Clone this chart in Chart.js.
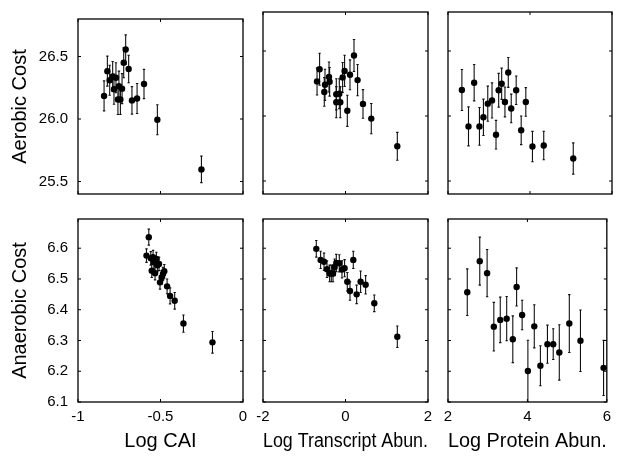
<!DOCTYPE html>
<html>
<head>
<meta charset="utf-8">
<script src="https://cdn.jsdelivr.net/npm/chart.js@4.4.1/dist/chart.umd.min.js"></script>
<style>
  body { margin: 0; background: #fff; }
  #wrap { position: relative; width: 617px; height: 456px; background: #fff; }
  #wrap canvas { position: absolute; left: 0; top: 0; }
</style>
</head>
<body>
<div id="wrap">
  <canvas id="p0" width="617" height="456"></canvas>
  <canvas id="p1" width="617" height="456"></canvas>
  <canvas id="p2" width="617" height="456"></canvas>
  <canvas id="p3" width="617" height="456"></canvas>
  <canvas id="p4" width="617" height="456"></canvas>
  <canvas id="p5" width="617" height="456"></canvas>
</div>
<script>
// Values (approximate)

// Log CAI vs aerobic cost
const caiAerX = [-0.842, -0.822, -0.808, -0.79, -0.782, -0.77, -0.758, -0.752, -0.743, -0.733, -0.723, -0.711, -0.693, -0.673, -0.642, -0.60, -0.519, -0.252];
const caiAerY = [26.185, 26.383, 26.31, 26.34, 26.238, 26.33, 26.156, 26.263, 26.156, 26.243, 26.45, 26.556, 26.40, 26.149, 26.164, 26.28, 25.994, 25.597];
const caiAerErr = [0.12, 0.12, 0.12, 0.12, 0.12, 0.12, 0.12, 0.12, 0.12, 0.12, 0.12, 0.117, 0.11, 0.11, 0.12, 0.117, 0.12, 0.106];

// Log transcript abundance vs aerobic cost
const trAerX = [-0.69, -0.628, -0.514, -0.497, -0.40, -0.385, -0.223, -0.223, -0.15, -0.126, -0.07, -0.022, 0.044, 0.109, 0.206, 0.293, 0.424, 0.625, 1.256];
const trAerY = [26.266, 26.36, 26.185, 26.24, 26.30, 26.263, 26.167, 26.106, 26.172, 26.106, 26.297, 26.347, 26.04, 26.317, 26.465, 26.276, 26.093, 25.98, 25.767];
const trAerErr = [0.104, 0.123, 0.11, 0.12, 0.115, 0.11, 0.12, 0.12, 0.115, 0.12, 0.115, 0.12, 0.12, 0.115, 0.123, 0.12, 0.11, 0.116, 0.107];

// Log protein abundance vs aerobic cost
const prAerX = [2.339, 2.50, 2.638, 2.767, 2.864, 2.97, 3.074, 3.171, 3.236, 3.309, 3.389, 3.47, 3.542, 3.663, 3.785, 3.898, 4.06, 4.335, 5.055];
const prAerY = [26.20, 25.92, 26.256, 25.92, 25.99, 26.095, 26.12, 25.856, 26.198, 26.248, 26.108, 26.335, 26.058, 26.198, 25.89, 26.108, 25.765, 25.773, 25.673];
const prAerErr = [0.158, 0.15, 0.14, 0.145, 0.14, 0.135, 0.135, 0.11, 0.13, 0.12, 0.115, 0.115, 0.11, 0.11, 0.11, 0.11, 0.117, 0.11, 0.12];

// Log CAI vs anaerobic cost
const caiAnaX = [-0.585, -0.571, -0.559, -0.553, -0.545, -0.540, -0.533, -0.525, -0.519, -0.509, -0.503, -0.493, -0.485, -0.477, -0.46, -0.442, -0.414, -0.361, -0.185];
const caiAnaY = [6.576, 6.636, 6.567, 6.527, 6.571, 6.554, 6.519, 6.565, 6.545, 6.549, 6.489, 6.505, 6.516, 6.525, 6.476, 6.445, 6.429, 6.355, 6.294];
const caiAnaErr = [0.022, 0.026, 0.022, 0.022, 0.022, 0.022, 0.022, 0.022, 0.022, 0.022, 0.022, 0.022, 0.022, 0.022, 0.024, 0.026, 0.027, 0.028, 0.035];

// Log transcript abundance vs anaerobic cost
const trAnaX = [-0.708, -0.603, -0.521, -0.449, -0.385, -0.344, -0.303, -0.264, -0.223, -0.15, -0.085, -0.022, 0.044, 0.109, 0.189, 0.27, 0.366, 0.488, 0.698, 1.256];
const trAnaY = [6.598, 6.562, 6.556, 6.532, 6.518, 6.518, 6.518, 6.538, 6.552, 6.551, 6.531, 6.535, 6.491, 6.461, 6.562, 6.45, 6.491, 6.481, 6.421, 6.312];
const trAnaErr = [0.027, 0.028, 0.028, 0.027, 0.027, 0.027, 0.027, 0.027, 0.028, 0.028, 0.028, 0.028, 0.03, 0.03, 0.028, 0.03, 0.035, 0.03, 0.027, 0.035];

// Log protein abundance vs anaerobic cost
const prAnaX = [2.485, 2.80, 2.985, 3.154, 3.316, 3.478, 3.632, 3.728, 3.867, 4.012, 4.173, 4.327, 4.504, 4.65, 4.803, 5.055, 5.336, 5.918];
const prAnaY = [6.457, 6.558, 6.519, 6.345, 6.367, 6.371, 6.304, 6.474, 6.383, 6.201, 6.346, 6.218, 6.288, 6.288, 6.261, 6.355, 6.299, 6.211];
const prAnaErr = [0.076, 0.078, 0.077, 0.079, 0.074, 0.072, 0.076, 0.062, 0.048, 0.10, 0.07, 0.065, 0.062, 0.05, 0.09, 0.094, 0.10, 0.09];

// Axis ranges and ticks
const caiRange = [-1, 0];
const trRange = [-2, 2];
const prRange = [2, 6];
const aerRange = [25.4, 26.8];
const anaRange = [6.1, 6.695];
const caiTicks = [-1, -0.5, 0];
const trTicks = [-2, 0, 2];
const prTicks = [2, 4, 6];
const aerTicks = [25.5, 26.0, 26.5];
const anaTicks = [6.1, 6.2, 6.3, 6.4, 6.5, 6.6];

const xTitles = ['Log CAI', 'Log Transcript Abun.', 'Log Protein Abun.'];
const yTitles = ['Aerobic Cost', 'Anaerobic Cost'];

// panel frame edges in page pixels
const colLeft = [78, 263, 448];
const colRight = [243, 428, 612];
const rowTop = [12, 219];
const rowBottom = [194, 402];
const W = 617, H = 456;

Chart.defaults.font.family = "'Liberation Sans', Arial, Helvetica, sans-serif";
Chart.defaults.color = '#000';

// vertical error bars with small caps, drawn under the markers
const errorBars = {
  id: 'errorBars',
  beforeDatasetsDraw(chart, args, opts) {
    const {ctx, chartArea, scales: {x, y}} = chart;
    const pts = chart.data.datasets[0].data;
    ctx.save();
    ctx.beginPath();
    ctx.rect(chartArea.left, chartArea.top, chartArea.width, chartArea.height);
    ctx.clip();
    ctx.strokeStyle = '#111';
    ctx.lineWidth = 1.1;
    pts.forEach((p, i) => {
      const px = x.getPixelForValue(p.x);
      const top = y.getPixelForValue(p.y + opts.errs[i]);
      const bot = y.getPixelForValue(p.y - opts.errs[i]);
      ctx.beginPath();
      ctx.moveTo(px, top); ctx.lineTo(px, bot);
      ctx.moveTo(px - 1.2, top); ctx.lineTo(px + 1.2, top);
      ctx.moveTo(px - 1.2, bot); ctx.lineTo(px + 1.2, bot);
      ctx.stroke();
    });
    ctx.restore();
  }
};

// box around the axes with inward ticks on all four sides
const axesBox = {
  id: 'axesBox',
  afterDraw(chart) {
    const {ctx, chartArea: a, scales: {x, y}} = chart;
    const len = 3;
    ctx.save();
    ctx.strokeStyle = '#000';
    ctx.lineWidth = 1.3;
    ctx.strokeRect(a.left, a.top, a.width, a.height);
    ctx.lineWidth = 1;
    ctx.beginPath();
    x.ticks.forEach(t => {
      const px = x.getPixelForValue(t.value);
      ctx.moveTo(px, a.bottom); ctx.lineTo(px, a.bottom - len);
      ctx.moveTo(px, a.top); ctx.lineTo(px, a.top + len);
    });
    y.ticks.forEach(t => {
      const py = y.getPixelForValue(t.value);
      ctx.moveTo(a.left, py); ctx.lineTo(a.left + len, py);
      ctx.moveTo(a.right, py); ctx.lineTo(a.right - len, py);
    });
    ctx.stroke();
    ctx.restore();
  }
};

const makePanel = (id, row, col, xs, ys, errs, xRange, yRange, xTicks, yTicks) => {
  const ctx = document.getElementById(id).getContext('2d');
  return new Chart(ctx, {
    type: 'scatter',
    data: {
      datasets: [{
        data: xs.map((v, i) => ({x: v, y: ys[i]})),
        pointRadius: 3.2,
        pointBackgroundColor: '#000',
        pointBorderWidth: 0,
        clip: false
      }]
    },
    options: {
      responsive: false,
      animation: false,
      events: [],
      layout: {
        padding: {
          left: col === 0 ? 0 : colLeft[col],
          right: W - colRight[col],
          top: rowTop[row],
          bottom: row === 1 ? 0 : H - rowBottom[row]
        }
      },
      plugins: {
        legend: {display: false},
        tooltip: {enabled: false},
        errorBars: {errs: errs}
      },
      scales: {
        x: {
          type: 'linear',
          min: xRange[0],
          max: xRange[1],
          afterBuildTicks: s => { s.ticks = xTicks.map(v => ({value: v})); },
          afterFit: s => { s.height = row === 1 ? H - rowBottom[1] : 0; },
          grid: {display: false, drawTicks: false},
          border: {display: false},
          ticks: {
            display: row === 1,
            padding: 6,
            autoSkip: false,
            maxRotation: 0,
            font: {size: 15},
            callback: v => String(v)
          },
          title: {
            display: row === 1,
            text: xTitles[col],
            font: {size: 20},
            padding: {top: 0, bottom: 3}
          }
        },
        y: {
          type: 'linear',
          min: yRange[0],
          max: yRange[1],
          afterBuildTicks: s => { s.ticks = yTicks.map(v => ({value: v})); },
          afterFit: s => { s.width = col === 0 ? colLeft[0] : 0; },
          grid: {display: false, drawTicks: false},
          border: {display: false},
          ticks: {
            display: col === 0,
            padding: 10,
            font: {size: 15},
            callback: v => v.toFixed(1)
          },
          title: {
            display: col === 0,
            text: yTitles[row],
            font: {size: 20},
            padding: {top: 8, bottom: 0}
          }
        }
      }
    },
    plugins: [errorBars, axesBox]
  });
};

makePanel('p0', 0, 0, caiAerX, caiAerY, caiAerErr, caiRange, aerRange, caiTicks, aerTicks);
makePanel('p1', 0, 1, trAerX, trAerY, trAerErr, trRange, aerRange, trTicks, aerTicks);
makePanel('p2', 0, 2, prAerX, prAerY, prAerErr, prRange, aerRange, prTicks, aerTicks);
makePanel('p3', 1, 0, caiAnaX, caiAnaY, caiAnaErr, caiRange, anaRange, caiTicks, anaTicks);
makePanel('p4', 1, 1, trAnaX, trAnaY, trAnaErr, trRange, anaRange, trTicks, anaTicks);
makePanel('p5', 1, 2, prAnaX, prAnaY, prAnaErr, prRange, anaRange, prTicks, anaTicks);
</script>
</body>
</html>
